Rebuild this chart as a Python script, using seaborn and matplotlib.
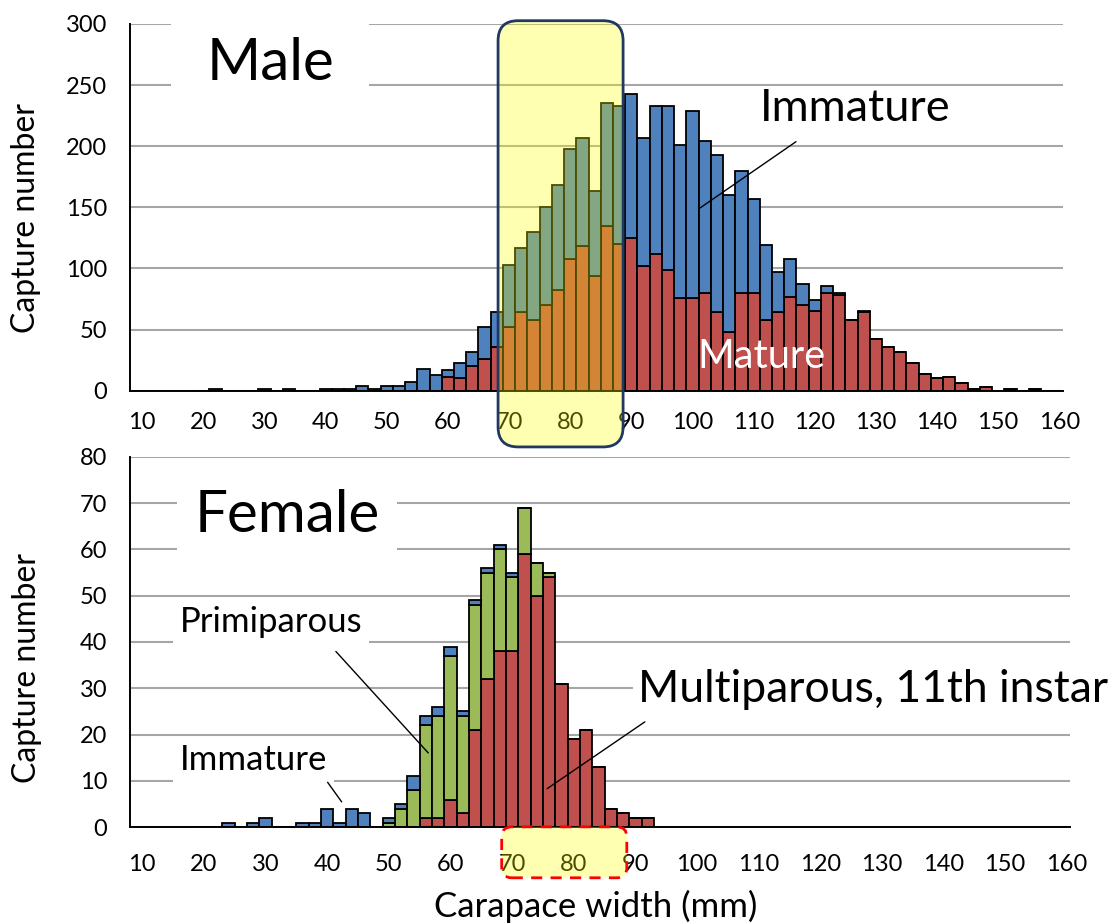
import numpy as np
import pandas as pd
import matplotlib
matplotlib.use("Agg")
import matplotlib.pyplot as plt
import seaborn as sns
from matplotlib.patches import FancyBboxPatch
from matplotlib.transforms import ScaledTranslation

# ---------------- data (counts per 2-mm carapace-width bin, left edge) ----------------
male_bins = [20, 22, 24, 26, 28, 30, 32, 34, 36, 38,
             40, 42, 44, 46, 48, 50, 52, 54, 56, 58,
             60, 62, 64, 66, 68, 70, 72, 74, 76, 78,
             80, 82, 84, 86, 88, 90, 92, 94, 96, 98,
             100, 102, 104, 106, 108, 110, 112, 114, 116, 118,
             120, 122, 124, 126, 128, 130, 132, 134, 136, 138,
             140, 142, 144, 146, 148, 150, 152, 154, 156, 158]
male_immature = [0, 1, 0, 0, 0, 1, 0, 1, 0, 0,
                 1, 1, 1, 4, 1, 4, 4, 7, 18, 13,
                 6, 13, 12, 26, 28, 51, 53, 72, 80, 86,
                 90, 89, 69, 100, 113, 118, 105, 121, 134, 125,
                 153, 124, 129, 112, 100, 77, 61, 33, 31, 17,
                 9, 6, 2, 0, 1, 0, 0, 0, 0, 0,
                 0, 0, 0, 0, 0, 0, 0, 0, 0, 0]
male_mature = [0, 0, 0, 0, 0, 0, 0, 0, 0, 0,
               0, 0, 0, 0, 0, 0, 0, 0, 0, 0,
               11, 10, 20, 26, 36, 52, 64, 58, 70, 82,
               108, 118, 94, 135, 120, 125, 102, 112, 99, 76,
               76, 80, 64, 48, 80, 80, 58, 64, 77, 70,
               65, 80, 78, 58, 64, 42, 36, 32, 23, 14,
               10, 11, 6, 1, 3, 0, 1, 0, 1, 0]

female_bins = [20, 22, 24, 26, 28, 30, 32, 34, 36, 38,
               40, 42, 44, 46, 48, 50, 52, 54, 56, 58,
               60, 62, 64, 66, 68, 70, 72, 74, 76, 78,
               80, 82, 84, 86, 88, 90, 92]
female_immature = [0, 0, 1, 0, 1, 2, 0, 0, 1, 1,
                   4, 1, 4, 3, 0, 1, 1, 3, 2, 2,
                   2, 1, 1, 1, 1, 1, 0, 0, 0, 0,
                   0, 0, 0, 0, 0, 0, 0]
female_primiparous = [0, 0, 0, 0, 0, 0, 0, 0, 0, 0,
                      0, 0, 0, 0, 0, 1, 4, 8, 20, 22,
                      31, 21, 27, 23, 22, 16, 10, 7, 1, 0,
                      0, 0, 0, 0, 0, 0, 0]
female_multiparous = [0, 0, 0, 0, 0, 0, 0, 0, 0, 0,
                      0, 0, 0, 0, 0, 0, 0, 0, 2, 2,
                      6, 3, 21, 32, 38, 38, 59, 50, 54, 31,
                      19, 21, 13, 4, 3, 2, 2]

x_ticks = [10, 20, 30, 40, 50, 60, 70, 80, 90, 100, 110, 120, 130, 140, 150, 160]
male_yticks = [0, 50, 100, 150, 200, 250, 300]
female_yticks = [0, 10, 20, 30, 40, 50, 60, 70, 80]

BIN_W = 2
BLUE, RED, GREEN = "#4F81BD", "#C0504D", "#9BBB59"
GRID = "#A6A6A6"

# ---------------- tidy frames ----------------
male_df = pd.concat([
    pd.DataFrame({"width": np.array(male_bins) + BIN_W / 2, "count": male_immature, "stage": "Immature"}),
    pd.DataFrame({"width": np.array(male_bins) + BIN_W / 2, "count": male_mature, "stage": "Mature"}),
], ignore_index=True)
female_df = pd.concat([
    pd.DataFrame({"width": np.array(female_bins) + BIN_W / 2, "count": female_immature, "stage": "Immature"}),
    pd.DataFrame({"width": np.array(female_bins) + BIN_W / 2, "count": female_primiparous, "stage": "Primiparous"}),
    pd.DataFrame({"width": np.array(female_bins) + BIN_W / 2, "count": female_multiparous, "stage": "Multiparous"}),
], ignore_index=True)

male_edges = [float(b) for b in male_bins] + [float(male_bins[-1] + BIN_W)]
female_edges = [float(b) for b in female_bins] + [float(female_bins[-1] + BIN_W)]

# ---------------- style ----------------
sns.set_style("white")
plt.rcParams['font.family'] = ['Lato', 'DejaVu Sans']
plt.rcParams.update({"text.color": "black", "axes.labelcolor": "black",
                     "xtick.color": "black", "ytick.color": "black"})

fig = plt.figure(figsize=(11.14, 9.23), dpi=100)
W, H = 1114, 923
ax1 = fig.add_axes([130 / W, 1 - 390.7 / H, 933 / W, 366.7 / H])
ax2 = fig.add_axes([130 / W, 1 - 827.3 / H, 940 / W, 370.6 / H])

sns.histplot(data=male_df, x="width", weights="count", hue="stage",
             hue_order=["Immature", "Mature"], multiple="stack", bins=male_edges,
             palette={"Immature": BLUE, "Mature": RED}, edgecolor="black",
             linewidth=1.3, alpha=1, legend=False, ax=ax1)
sns.histplot(data=female_df, x="width", weights="count", hue="stage",
             hue_order=["Immature", "Primiparous", "Multiparous"], multiple="stack",
             bins=female_edges,
             palette={"Immature": BLUE, "Primiparous": GREEN, "Multiparous": RED},
             edgecolor="black", linewidth=1.3, alpha=1, legend=False, ax=ax2)


def style(ax, xlim, yticks, pad_x):
    ax.set_xlim(*xlim)
    ax.set_ylim(yticks[0], yticks[-1])
    ax.set_xticks(x_ticks)
    ax.set_yticks(yticks)
    ax.set_xlabel("")
    ax.set_ylabel("Capture number", fontsize=23, color="black")
    ax.set_axisbelow(True)
    ax.yaxis.grid(True, color=GRID, linewidth=1.5)
    ax.xaxis.grid(False)
    for s in ("top", "right"):
        ax.spines[s].set_visible(False)
    for s in ("left", "bottom"):
        ax.spines[s].set_color("black")
        ax.spines[s].set_linewidth(1.4)
    ax.tick_params(axis="both", direction="inout", length=9, width=1.3,
                   colors="black", labelsize=17)
    ax.tick_params(axis="y", pad=12)
    ax.tick_params(axis="x", pad=pad_x)
    off = ScaledTranslation(0.06, 0, fig.dpi_scale_trans)
    for lab in ax.get_xticklabels():
        lab.set_transform(lab.get_transform() + off)


style(ax1, (9.0, 161.6), male_yticks, 11)
style(ax2, (9.0, 161.5), female_yticks, 15)
ax1.yaxis.set_label_coords(-0.095, 0.47)
ax2.yaxis.set_label_coords(-0.094, 0.43)


def highlight(ax, x0, x1, y0, y1, radius_px, **kw):
    p0 = ax.transData.transform((0, 0))
    p1 = ax.transData.transform((1, 1))
    px_x, px_y = p1[0] - p0[0], p1[1] - p0[1]
    r = radius_px / px_x
    box = FancyBboxPatch((x0, y0), x1 - x0, y1 - y0,
                         boxstyle=f"round,pad=0,rounding_size={r}",
                         mutation_aspect=px_x / px_y, transform=ax.transData,
                         clip_on=False, zorder=5, **kw)
    ax.add_patch(box)


highlight(ax1, 69.2, 89.65, -46, 302.7, 20, facecolor=(1, 1, 0, 0.3),
          edgecolor="#1F3864", linewidth=2)
highlight(ax2, 69.3, 89.6, -10.9, 0.1, 10, facecolor=(1, 1, 0, 0.3),
          edgecolor="#FF0000", linewidth=2, linestyle=(0, (4, 3)))

# ---------------- annotations ----------------
ax1.text(31.9, 268, "Male", fontsize=42, ha="center", va="center", zorder=3,
         bbox=dict(boxstyle="square,pad=0.6", fc="white", ec="none"))
ax1.text(112.1, 231, "Immature", fontsize=32.5, ha="left", va="center", zorder=6)
ax1.annotate("", xy=(101.8, 148), xytext=(118.3, 205),
             arrowprops=dict(arrowstyle="-", color="black", lw=1), zorder=6)
ax1.text(101.8, 28, "Mature", fontsize=28.5, ha="left", va="center", color="white", zorder=6)

ax2.text(34.5, 67.2, "Female", fontsize=42, ha="center", va="center", zorder=3,
         bbox=dict(boxstyle="square,pad=0.3", fc="white", ec="none"))
ax2.text(17.1, 44.4, "Primiparous", fontsize=25, ha="left", va="center", zorder=3,
         bbox=dict(boxstyle="square,pad=0.2", fc="white", ec="none"))
ax2.annotate("", xy=(57.7, 15.6), xytext=(42.1, 38.4),
             arrowprops=dict(arrowstyle="-", color="black", lw=1), zorder=6)
ax2.text(17.1, 14.5, "Immature", fontsize=25, ha="left", va="center", zorder=3,
         bbox=dict(boxstyle="square,pad=0.2", fc="white", ec="none"))
ax2.annotate("", xy=(43.6, 5.0), xytext=(40.8, 10.2),
             arrowprops=dict(arrowstyle="-", color="black", lw=1), zorder=6)
ax2.text(91.4, 29.8, "Multiparous, 11th instar", fontsize=32, ha="left", va="center",
         zorder=3, bbox=dict(boxstyle="square,pad=0.1", fc="white", ec="none"))
ax2.annotate("", xy=(76.3, 8.0), xytext=(92.9, 23.1),
             arrowprops=dict(arrowstyle="-", color="black", lw=1), zorder=6)

fig.text(596 / W, 1 - 906 / H, "Carapace width (mm)", fontsize=25, ha="center", va="center")

fig.savefig("out.png", dpi=100)
